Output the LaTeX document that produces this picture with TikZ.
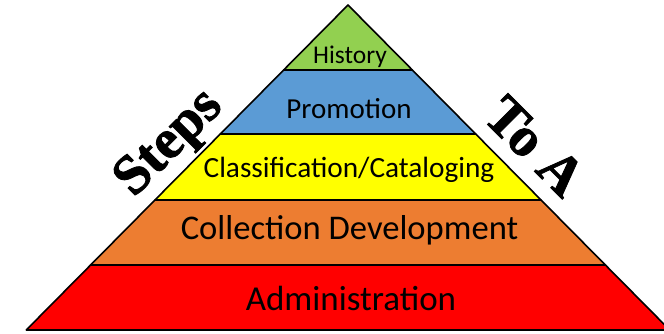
\documentclass[tikz,border=0pt]{standalone}
\usepackage{fontspec}
\setmainfont{Carlito}
\newfontfamily\stepsfont[FakeBold=1.5]{Liberation Serif}
\definecolor{histgreen}{RGB}{146,208,80}
\definecolor{promblue}{RGB}{91,155,213}
\definecolor{classyellow}{RGB}{255,255,0}
\definecolor{collorange}{RGB}{237,125,49}
\definecolor{admred}{RGB}{255,0,0}
\tikzset{
  band/.style={draw=black, line width=1.6pt, line join=round},
  label/.style={anchor=base, inner sep=0pt, text=black},
  sidetext/.style={anchor=base, inner sep=0pt, text=black, font=\stepsfont\bfseries\fontsize{56}{60}\selectfont},
}
\begin{document}
\begin{tikzpicture}[x=1pt, y=-1pt]
\useasboundingbox (0,0) rectangle (664,333);
\clip (0,0) rectangle (664,333);
\fill[white] (0,0) rectangle (664,333);
% bands
\draw[band, fill=admred] (90.6,265) -- (605.4,265) -- (669.75,330) -- (26.25,330) -- cycle;
\draw[band, fill=collorange] (154.95,200) -- (541.05,200) -- (605.4,265) -- (90.6,265) -- cycle;
\draw[band, fill=classyellow] (220.3,134) -- (475.7,134) -- (541.05,200) -- (154.95,200) -- cycle;
\draw[band, fill=promblue] (283.65,70) -- (412.35,70) -- (475.7,134) -- (220.3,134) -- cycle;
\draw[band, fill=histgreen] (348,5) -- (412.35,70) -- (283.65,70) -- cycle;
% labels
\node[label, font=\fontsize{25.5}{28}\selectfont] (history) at (350,63) {History};
\node[label, font=\fontsize{29}{32}\selectfont] (promotion) at (349,118) {Promotion};
\node[label, font=\fontsize{29.3}{32}\selectfont] (classification) at (349,177) {Classification/Cataloging};
\node[label, font=\fontsize{34.6}{38}\selectfont] (collection) at (349.5,239) {Collection Development};
\node[label, font=\fontsize{35}{38}\selectfont] (administration) at (351,310) {Administration};
% side texts
\node[sidetext, rotate=45] (steps) at (179,153) {Steps};
\node[sidetext, rotate=-45] (toa) at (522,159) {To A};
\end{tikzpicture}
\end{document}
